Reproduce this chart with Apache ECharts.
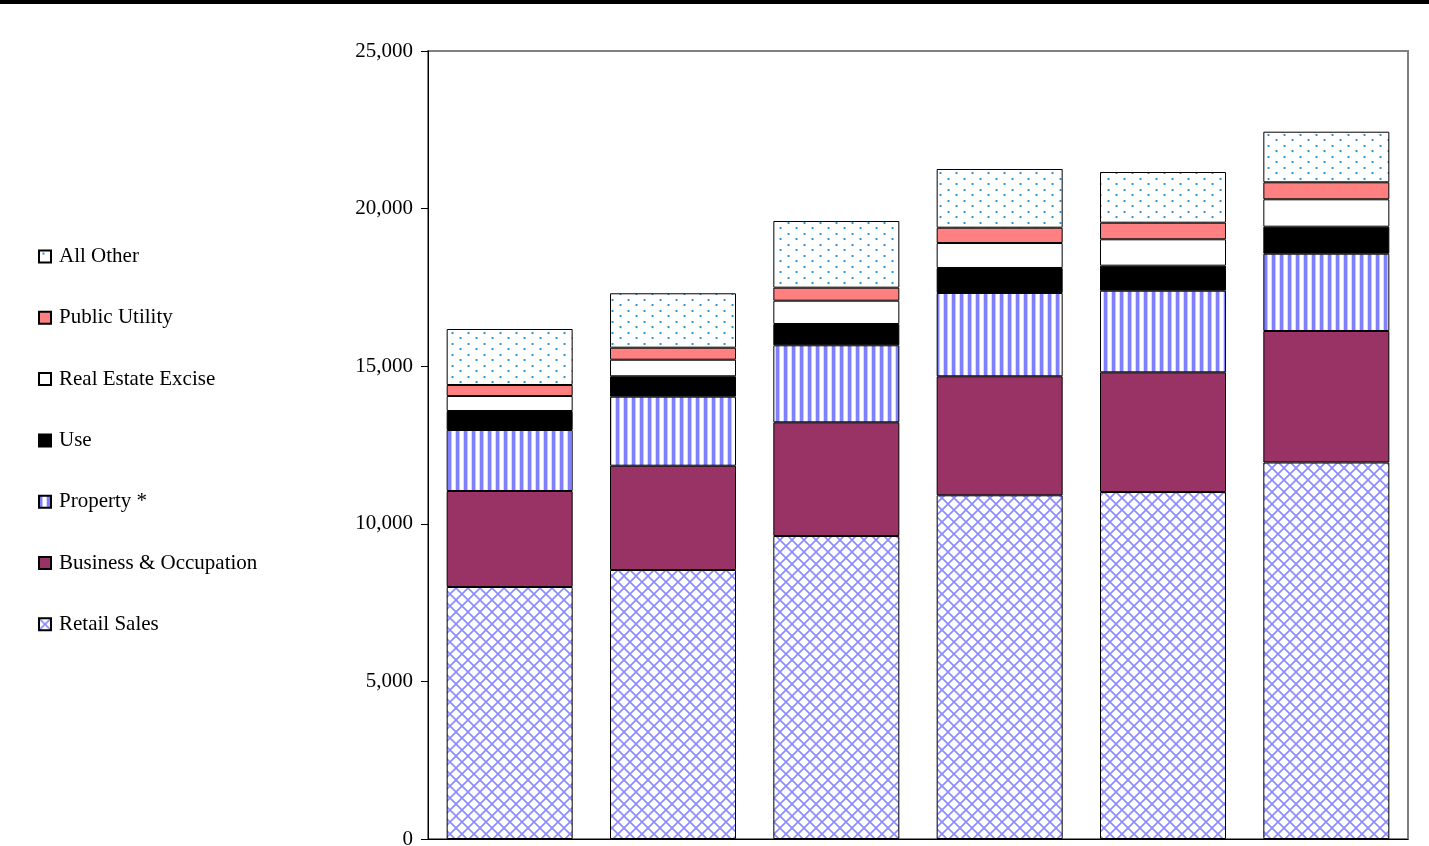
<!DOCTYPE html>
<html>
<head>
<meta charset="utf-8">
<script src="https://cdn.jsdelivr.net/npm/echarts@6/dist/echarts.min.js"></script>
<style>
html,body{margin:0;padding:0;background:#fff;overflow:hidden;}
#chart{width:1429px;height:846px;}
</style>
</head>
<body>
<div id="chart"></div>
<script>
// ---- data ----
const categories = ['FY 1998', 'FY 1999', 'FY 2000', 'FY 2001', 'FY 2002', 'FY 2003'];
const retailSales = [7995, 8534, 9613, 10904, 11009, 11945];
const businessOccupation = [3046, 3309, 3607, 3776, 3797, 4172];
const property = [1935, 2190, 2443, 2642, 2589, 2452];
const useTax = [603, 647, 676, 794, 794, 857];
const realEstateExcise = [476, 526, 739, 793, 837, 869];
const publicUtility = [349, 381, 413, 485, 527, 539];
const allOther = [1776, 1726, 2116, 1862, 1608, 1606];
const yTicks = [0, 5000, 10000, 15000, 20000, 25000];
const legendOrder = ['All Other', 'Public Utility', 'Real Estate Excise', 'Use', 'Property *', 'Business & Occupation', 'Retail Sales'];

// ---- patterns ----
function makeCanvas(w, h) { const c = document.createElement('canvas'); c.width = w; c.height = h; return c; }
function crossHatch() {
  const c = makeCanvas(12, 12), g = c.getContext('2d');
  g.fillStyle = '#fff'; g.fillRect(0, 0, 12, 12);
  g.strokeStyle = '#8a8aff'; g.lineWidth = 1.6;
  g.beginPath(); g.moveTo(-1, -1); g.lineTo(13, 13); g.moveTo(-1, 13); g.lineTo(13, -1); g.stroke();
  return c;
}
function stripes() {
  const c = makeCanvas(8, 4), g = c.getContext('2d');
  g.fillStyle = '#fff'; g.fillRect(0, 0, 8, 4);
  g.fillStyle = '#8080ff'; g.fillRect(0, 0, 3, 4);
  g.fillStyle = '#c4c4ff'; g.fillRect(3, 0, 1, 4);
  g.fillStyle = '#d8d8ff'; g.fillRect(7, 0, 1, 4);
  return c;
}
function dots() {
  const c = makeCanvas(16, 11), g = c.getContext('2d');
  g.fillStyle = '#fff'; g.fillRect(0, 0, 16, 11);
  g.fillStyle = '#9fd0ee';
  g.fillRect(3, 2, 3, 2); g.fillRect(11, 7, 3, 2);
  g.fillStyle = '#2a8fd0';
  g.fillRect(4, 2, 1, 2); g.fillRect(12, 7, 1, 2);
  return c;
}
const patRetail = { image: crossHatch(), repeat: 'repeat' };
const patProperty = { image: stripes(), repeat: 'repeat' };
const patOther = { image: dots(), repeat: 'repeat' };

function mk(name, data, color) {
  return {
    name, type: 'bar', stack: 'total', data, barWidth: 126,
    itemStyle: { color, borderColor: '#000', borderWidth: 1 },
    emphasis: { disabled: true }
  };
}

const chart = echarts.init(document.getElementById('chart'), null, { renderer: 'canvas' });
chart.setOption({
  animation: false,
  backgroundColor: '#fff',
  graphic: [{ type: 'rect', left: 0, top: 0, shape: { width: 1429, height: 4 }, style: { fill: '#000' } }],
  grid: {
    left: 428, right: 21, top: 51, bottom: 7, containLabel: false, outerBoundsMode: 'none',
    show: true, borderColor: '#808080', borderWidth: 2, backgroundColor: 'transparent'
  },
  legend: {
    orient: 'vertical', left: 38, top: 246, padding: 0, itemWidth: 12, itemHeight: 12, itemGap: 40.3,
    icon: 'rect',
    data: legendOrder, selectedMode: false,
    textStyle: { fontFamily: 'Liberation Serif', fontSize: 21, color: '#000', padding: [0, 0, 0, 3] }
  },
  xAxis: {
    type: 'category', data: categories,
    axisLine: { show: true, lineStyle: { color: '#000', width: 1 } },
    axisTick: { show: false }, axisLabel: { show: false }
  },
  yAxis: {
    type: 'value', min: yTicks[0], max: yTicks[yTicks.length - 1], interval: 5000,
    axisLine: { show: true, lineStyle: { color: '#000', width: 1 } },
    axisTick: { show: true, length: 7, lineStyle: { color: '#000' } },
    splitLine: { show: false },
    axisLabel: {
      margin: 15, fontFamily: 'Liberation Serif', fontSize: 21, color: '#000',
      formatter: v => v.toLocaleString('en-US')
    }
  },
  series: [
    mk('Retail Sales', retailSales, patRetail),
    mk('Business & Occupation', businessOccupation, '#993366'),
    mk('Property *', property, patProperty),
    mk('Use', useTax, '#000000'),
    mk('Real Estate Excise', realEstateExcise, '#ffffff'),
    mk('Public Utility', publicUtility, '#ff8080'),
    mk('All Other', allOther, patOther)
  ]
});
</script>
</body>
</html>
